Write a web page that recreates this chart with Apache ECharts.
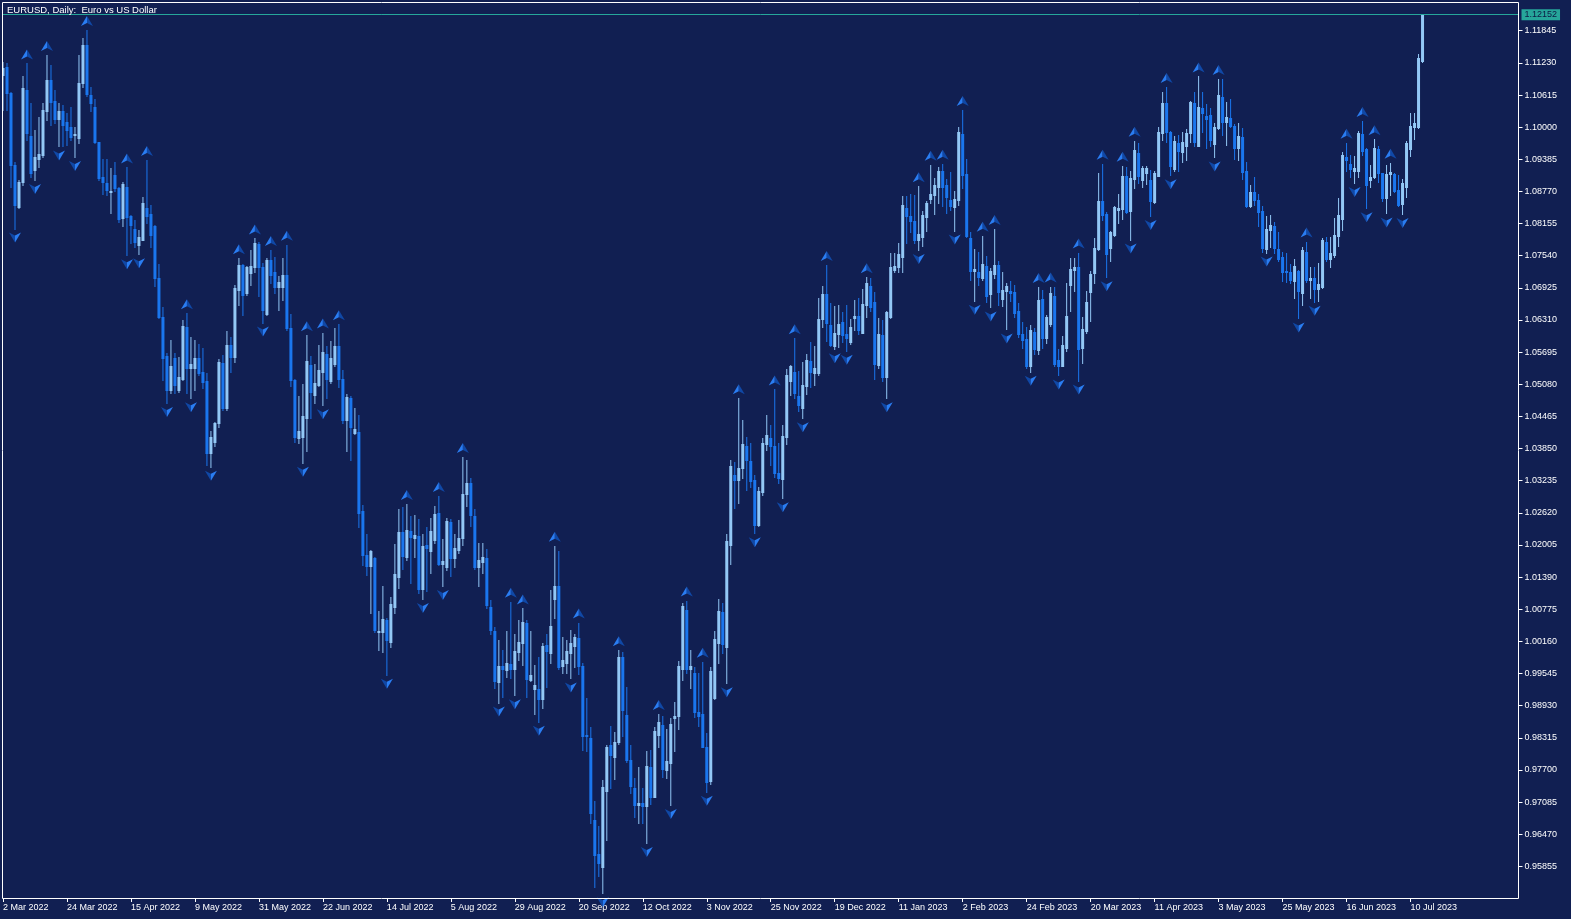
<!DOCTYPE html>
<html><head><meta charset="utf-8">
<script src="https://cdn.jsdelivr.net/npm/echarts@6/dist/echarts.min.js"></script>
<style>html,body{margin:0;padding:0;background:#111f52;}#chart{width:1571px;height:919px;}</style>
</head><body><div id="chart"></div>
<script>
const chartTitle = 'EURUSD, Daily:  Euro vs US Dollar';
const tickLabels = ['2 Mar 2022','24 Mar 2022','15 Apr 2022','9 May 2022','31 May 2022','22 Jun 2022','14 Jul 2022','5 Aug 2022','29 Aug 2022','20 Sep 2022','12 Oct 2022','3 Nov 2022','25 Nov 2022','19 Dec 2022','11 Jan 2023','2 Feb 2023','24 Feb 2023','20 Mar 2023','11 Apr 2023','3 May 2023','25 May 2023','16 Jun 2023','10 Jul 2023'];
const yTicks = [1.11845,1.11230,1.10615,1.10000,1.09385,1.08770,1.08155,1.07540,1.06925,1.06310,1.05695,1.05080,1.04465,1.03850,1.03235,1.02620,1.02005,1.01390,1.00775,1.00160,0.99545,0.98930,0.98315,0.97700,0.97085,0.96470,0.95855];
const currentPrice = 1.12152;

const openPrices = [
1.1100,1.1116,1.1066,1.0928,1.0848,1.0896,1.1071,1.0983,1.0918,1.0940,
1.0947,1.1030,1.1090,1.1051,1.1016,1.1030,1.1009,1.1000,1.0985,1.0980,
1.1084,1.1157,1.1062,1.1039,1.0971,1.0905,1.0893,1.0876,1.0908,1.0884,
1.0826,1.0886,1.0830,1.0806,1.0775,1.0785,1.0845,1.0834,1.0810,1.0711,
1.0637,1.0563,1.0497,1.0558,1.0497,1.0519,1.0618,1.0539,1.0539,1.0559,
1.0532,1.0514,1.0376,1.0398,1.0433,1.0549,1.0462,1.0583,1.0561,1.0688,
1.0736,1.0683,1.0720,1.0733,1.0776,1.0732,1.0642,1.0746,1.0722,1.0695,
1.0695,1.0717,1.0615,1.0516,1.0405,1.0408,1.0443,1.0545,1.0487,1.0507,
1.0532,1.0566,1.0515,1.0547,1.0581,1.0519,1.0440,1.0481,1.0414,1.0417,
1.0266,1.0181,1.0160,1.0175,1.0034,1.0034,1.0056,1.0015,1.0082,1.0140,
1.0226,1.0177,1.0228,1.0213,1.0218,1.0116,1.0201,1.0188,1.0210,1.0261,
1.0164,1.0158,1.0245,1.0175,1.0191,1.0213,1.0298,1.0319,1.0256,1.0159,
1.0167,1.0176,1.0082,1.0036,0.9939,0.9969,0.9961,0.9973,0.9963,0.9996,
1.0013,1.0052,0.9942,0.9924,0.9925,0.9905,1.0009,0.9994,1.0098,1.0122,
0.9968,0.9975,0.9994,1.0007,1.0022,0.9969,0.9837,0.9832,0.9674,0.9609,
0.9585,0.9730,0.9818,0.9794,0.9824,0.9987,0.9875,0.9789,0.9735,0.9702,
0.9707,0.9700,0.9775,0.9719,0.9837,0.9856,0.9770,0.9783,0.9869,0.9873,
0.9964,1.0076,0.9963,0.9956,0.9881,0.9877,0.9814,0.9749,0.9907,1.0013,
1.0073,1.0006,1.0201,1.0334,1.0325,1.0347,1.0390,1.0362,1.0325,1.0239,
1.0302,1.0394,1.0406,1.0390,1.0339,1.0326,1.0407,1.0515,1.0532,1.0486,
1.0462,1.0505,1.0553,1.0530,1.0529,1.0632,1.0681,1.0621,1.0581,1.0604,
1.0628,1.0604,1.0589,1.0634,1.0639,1.0607,1.0660,1.0696,1.0666,1.0545,
1.0602,1.0521,1.0637,1.0727,1.0733,1.0751,1.0845,1.0830,1.0821,1.0785,
1.0790,1.0828,1.0862,1.0870,1.0886,1.0917,1.0889,1.0861,1.0847,1.0861,
1.0987,1.0910,1.0787,1.0725,1.0723,1.0711,1.0734,1.0681,1.0719,1.0736,
1.0671,1.0687,1.0687,1.0685,1.0649,1.0604,1.0594,1.0543,1.0608,1.0573,
1.0671,1.0596,1.0623,1.0676,1.0555,1.0543,1.0577,1.0698,1.0727,1.0733,
1.0577,1.0609,1.0685,1.0720,1.0766,1.0859,1.0834,1.0768,1.0794,1.0841,
1.0843,1.0907,1.0840,1.0900,1.0950,1.0898,1.0913,1.0899,1.0857,1.0907,
1.0989,1.1047,1.0991,1.0919,1.0970,1.0953,1.0964,1.0988,1.1047,1.0964,
1.1036,1.1021,1.1023,1.0968,1.0998,1.1057,1.1009,1.1017,1.1002,1.0960,
1.0981,1.0917,1.0849,1.0875,1.0861,1.0840,1.0766,1.0803,1.0810,1.0766,
1.0751,1.0725,1.0722,1.0706,1.0725,1.0683,1.0762,1.0708,1.0711,1.0690,
1.0694,1.0781,1.0747,1.0755,1.0792,1.0824,1.0943,1.0929,1.0917,1.0917,
1.0987,1.0958,1.0899,1.0904,1.0958,1.0912,1.0864,1.0910,1.0910,1.0880,
1.0853,1.0886,1.0958,1.1001,1.1001,1.1127];

const highPrices = [
1.1125,1.1122,1.1068,1.0934,1.0899,1.1097,1.1122,1.1046,1.0995,1.1020,
1.1046,1.1138,1.1119,1.1071,1.1046,1.1042,1.1027,1.1038,1.1001,1.1138,
1.1170,1.1186,1.1076,1.1053,1.0972,1.0939,1.0939,1.0921,1.0933,1.0886,
1.0896,1.0923,1.0832,1.0822,1.0803,1.0867,1.0937,1.0851,1.0813,1.0738,
1.0656,1.0567,1.0593,1.0568,1.0561,1.0631,1.0644,1.0598,1.0593,1.0586,
1.0577,1.0529,1.0419,1.0436,1.0556,1.0564,1.0609,1.0599,1.0698,1.0749,
1.0739,1.0734,1.0765,1.0787,1.0781,1.0741,1.0749,1.0765,1.0752,1.0715,
1.0749,1.0775,1.0642,1.0519,1.0486,1.0509,1.0602,1.0562,1.0547,1.0583,
1.0607,1.0581,1.0591,1.0615,1.0623,1.0535,1.0489,1.0486,1.0462,1.0449,
1.0277,1.0221,1.0191,1.0177,1.0075,1.0122,1.0060,1.0100,1.0202,1.0269,
1.0274,1.0279,1.0256,1.0258,1.0250,1.0221,1.0234,1.0253,1.0275,1.0294,
1.0211,1.0253,1.0250,1.0221,1.0248,1.0369,1.0364,1.0328,1.0269,1.0205,
1.0205,1.0192,1.0095,1.0044,1.0019,0.9999,1.0035,1.0092,1.0030,1.0056,
1.0079,1.0056,1.0035,0.9971,0.9986,1.0012,1.0030,1.0114,1.0199,1.0188,
1.0025,1.0019,1.0038,1.0030,1.0052,0.9975,0.9907,0.9852,0.9711,0.9663,
0.9751,0.9818,0.9854,0.9843,0.9999,0.9996,0.9928,0.9818,0.9754,0.9776,
0.9735,0.9807,0.9809,0.9853,0.9877,0.9873,0.9848,0.9869,0.9900,0.9979,
1.0090,1.0094,0.9999,0.9966,0.9956,0.9977,0.9841,0.9966,1.0035,1.0097,
1.0089,1.0221,1.0364,1.0360,1.0481,1.0440,1.0408,1.0396,1.0334,1.0311,
1.0405,1.0449,1.0430,1.0498,1.0396,1.0430,1.0537,1.0545,1.0596,1.0534,
1.0551,1.0566,1.0589,1.0581,1.0673,1.0696,1.0736,1.0663,1.0658,1.0660,
1.0647,1.0660,1.0632,1.0669,1.0674,1.0690,1.0713,1.0711,1.0685,1.0634,
1.0631,1.0649,1.0760,1.0760,1.0778,1.0868,1.0868,1.0873,1.0870,1.0887,
1.0840,1.0859,1.0928,1.0902,1.0923,1.0930,1.0900,1.0915,1.0877,1.1000,
1.1033,1.0940,1.0800,1.0766,1.0762,1.0792,1.0753,1.0730,1.0805,1.0744,
1.0723,1.0702,1.0706,1.0698,1.0664,1.0628,1.0617,1.0621,1.0616,1.0694,
1.0688,1.0641,1.0695,1.0695,1.0575,1.0600,1.0702,1.0749,1.0749,1.0760,
1.0637,1.0687,1.0725,1.0787,1.0912,1.0930,1.0838,1.0802,1.0849,1.0872,
1.0926,1.0924,1.0917,1.0974,1.0969,1.0926,1.0926,1.0918,1.0917,1.1000,
1.1068,1.1077,1.0993,1.0983,1.0985,1.0991,1.0996,1.1051,1.1068,1.1097,
1.1068,1.1044,1.1036,1.1007,1.1092,1.1092,1.1049,1.1053,1.1006,1.1007,
1.0998,1.0934,1.0889,1.0904,1.0873,1.0849,1.0830,1.0832,1.0819,1.0800,
1.0762,1.0759,1.0739,1.0747,1.0727,1.0770,1.0781,1.0733,1.0732,1.0741,
1.0787,1.0789,1.0790,1.0826,1.0864,1.0953,1.0970,1.0947,1.0945,1.0993,
1.1012,1.0960,1.0928,1.0977,1.0964,1.0913,1.0928,1.0932,1.0913,1.0908,
1.0900,1.0974,1.1028,1.1028,1.1140,1.1216];

const lowPrices = [
1.1033,1.1033,1.0886,1.0806,1.0845,1.0889,1.0975,1.0905,1.0899,1.0924,
1.0943,1.1014,1.1004,1.1007,1.0963,1.0963,1.0966,1.0975,1.0943,1.0969,
1.1076,1.1060,1.1030,1.0970,1.0899,1.0873,1.0870,1.0836,1.0877,1.0819,
1.0810,1.0755,1.0778,1.0770,1.0757,1.0784,1.0816,1.0770,1.0696,1.0634,
1.0516,1.0472,1.0491,1.0491,1.0494,1.0516,1.0491,1.0481,1.0497,1.0526,
1.0500,1.0354,1.0350,1.0389,1.0427,1.0459,1.0459,1.0532,1.0551,1.0660,
1.0641,1.0678,1.0698,1.0723,1.0677,1.0626,1.0641,1.0701,1.0683,1.0650,
1.0669,1.0612,1.0505,1.0398,1.0396,1.0358,1.0381,1.0443,1.0473,1.0505,
1.0468,1.0482,1.0510,1.0543,1.0502,1.0433,1.0381,1.0363,1.0413,1.0234,
1.0162,1.0143,1.0071,1.0033,0.9999,0.9996,0.9952,1.0006,1.0071,1.0119,
1.0154,1.0172,1.0128,1.0178,1.0108,1.0097,1.0113,1.0146,1.0204,1.0162,
1.0122,1.0153,1.0141,1.0158,1.0186,1.0201,1.0275,1.0237,1.0154,1.0122,
1.0146,1.0079,1.0031,0.9926,0.9899,0.9910,0.9948,0.9945,0.9913,0.9980,
0.9971,0.9910,0.9941,0.9877,0.9862,0.9888,0.9929,0.9974,1.0060,0.9964,
0.9955,0.9955,0.9945,0.9966,0.9954,0.9809,0.9807,0.9668,0.9545,0.9567,
0.9534,0.9635,0.9735,0.9752,0.9820,0.9834,0.9786,0.9725,0.9679,0.9669,
0.9668,0.9630,0.9705,0.9718,0.9813,0.9757,0.9754,0.9703,0.9807,0.9848,
0.9943,0.9956,0.9926,0.9872,0.9854,0.9813,0.9728,0.9744,0.9905,0.9975,
0.9993,0.9936,1.0164,1.0271,1.0280,1.0328,1.0306,1.0312,1.0223,1.0237,
1.0296,1.0382,1.0354,1.0330,1.0319,1.0290,1.0394,1.0487,1.0481,1.0457,
1.0443,1.0489,1.0502,1.0507,1.0526,1.0618,1.0591,1.0581,1.0575,1.0580,
1.0589,1.0572,1.0585,1.0611,1.0604,1.0606,1.0637,1.0649,1.0519,1.0540,
1.0515,1.0481,1.0634,1.0723,1.0723,1.0723,1.0779,1.0800,1.0779,1.0765,
1.0773,1.0802,1.0854,1.0834,1.0855,1.0849,1.0836,1.0841,1.0802,1.0851,
1.0883,1.0790,1.0708,1.0668,1.0698,1.0708,1.0666,1.0655,1.0711,1.0660,
1.0658,1.0613,1.0668,1.0637,1.0598,1.0577,1.0540,1.0532,1.0566,1.0566,
1.0577,1.0587,1.0620,1.0542,1.0525,1.0542,1.0572,1.0649,1.0687,1.0515,
1.0549,1.0607,1.0630,1.0702,1.0764,1.0822,1.0713,1.0744,1.0792,1.0817,
1.0824,1.0835,1.0785,1.0883,1.0893,1.0886,1.0891,1.0830,1.0855,1.0907,
1.0975,1.0972,1.0908,1.0917,1.0917,1.0934,1.0938,1.0972,1.0963,1.0963,
1.0991,1.0961,1.0963,1.0942,1.0996,1.0985,1.0966,1.1000,1.0940,1.0938,
1.0900,1.0848,1.0847,1.0851,1.0810,1.0762,1.0760,1.0770,1.0760,1.0744,
1.0706,1.0704,1.0701,1.0673,1.0634,1.0660,1.0704,1.0673,1.0666,1.0668,
1.0692,1.0743,1.0733,1.0752,1.0773,1.0803,1.0917,1.0905,1.0893,1.0905,
1.0947,1.0845,1.0886,1.0902,1.0896,1.0859,1.0835,1.0870,1.0875,1.0849,
1.0834,1.0867,1.0945,1.0977,1.0998,1.1125];

const closePrices = [
1.1113,1.1065,1.0928,1.0851,1.0896,1.1074,1.0988,1.0912,1.0943,1.0949,
1.1032,1.1090,1.1049,1.1016,1.1030,1.1004,1.0995,1.0981,1.0987,1.1084,
1.1157,1.1063,1.1047,1.0971,1.0902,1.0896,1.0880,1.0878,1.0883,1.0824,
1.0891,1.0829,1.0813,1.0781,1.0789,1.0855,1.0830,1.0794,1.0711,1.0636,
1.0558,1.0497,1.0543,1.0507,1.0521,1.0620,1.0539,1.0547,1.0559,1.0529,
1.0513,1.0376,1.0408,1.0433,1.0551,1.0462,1.0583,1.0561,1.0692,1.0736,
1.0679,1.0732,1.0734,1.0779,1.0733,1.0650,1.0746,1.0717,1.0695,1.0704,
1.0717,1.0615,1.0516,1.0407,1.0419,1.0447,1.0553,1.0494,1.0510,1.0535,
1.0570,1.0519,1.0558,1.0581,1.0519,1.0440,1.0484,1.0427,1.0422,1.0262,
1.0181,1.0160,1.0188,1.0038,1.0036,1.0058,1.0019,1.0088,1.0145,1.0226,
1.0179,1.0229,1.0215,1.0220,1.0116,1.0199,1.0194,1.0227,1.0260,1.0165,
1.0170,1.0246,1.0175,1.0194,1.0213,1.0298,1.0319,1.0258,1.0159,1.0172,
1.0178,1.0086,1.0038,0.9941,0.9969,0.9964,0.9975,0.9963,0.9998,1.0015,
1.0054,0.9944,0.9952,0.9933,0.9905,1.0007,0.9998,1.0045,1.0122,0.9966,
0.9980,0.9998,1.0013,1.0025,0.9969,0.9835,0.9834,0.9687,0.9607,0.9591,
0.9738,0.9814,0.9799,0.9824,0.9987,0.9885,0.9789,0.9739,0.9703,0.9706,
0.9701,0.9778,0.9718,0.9845,0.9862,0.9771,0.9788,0.9858,0.9873,0.9969,
1.0084,0.9964,0.9968,0.9881,0.9873,0.9814,0.9747,0.9960,1.0020,1.0075,
1.0011,1.0209,1.0352,1.0325,1.0348,1.0394,1.0363,1.0323,1.0239,1.0304,
1.0396,1.0411,1.0390,1.0339,1.0328,1.0409,1.0526,1.0542,1.0492,1.0468,
1.0507,1.0554,1.0532,1.0540,1.0632,1.0681,1.0626,1.0583,1.0607,1.0623,
1.0602,1.0596,1.0617,1.0639,1.0611,1.0662,1.0702,1.0655,1.0547,1.0604,
1.0521,1.0647,1.0733,1.0734,1.0757,1.0851,1.0830,1.0821,1.0785,1.0796,
1.0832,1.0855,1.0872,1.0889,1.0917,1.0886,1.0866,1.0849,1.0862,1.0991,
1.0908,1.0792,1.0725,1.0728,1.0714,1.0738,1.0676,1.0725,1.0736,1.0685,
1.0688,1.0696,1.0682,1.0645,1.0604,1.0593,1.0543,1.0611,1.0576,1.0669,
1.0596,1.0636,1.0683,1.0547,1.0543,1.0583,1.0639,1.0728,1.0732,1.0575,
1.0613,1.0666,1.0719,1.0768,1.0859,1.0832,1.0757,1.0800,1.0848,1.0845,
1.0907,1.0838,1.0902,1.0956,1.0907,1.0921,1.0921,1.0859,1.0913,1.0991,
1.1047,1.0991,1.0926,1.0974,1.0955,1.0972,1.0989,1.1049,1.0972,1.1038,
1.1027,1.1015,1.0975,1.1000,1.1062,1.1010,1.1019,1.1002,1.0960,1.0983,
1.0915,1.0849,1.0875,1.0861,1.0838,1.0768,1.0806,1.0813,1.0768,1.0747,
1.0723,1.0722,1.0708,1.0734,1.0687,1.0764,1.0708,1.0711,1.0690,1.0700,
1.0784,1.0747,1.0760,1.0794,1.0832,1.0947,1.0938,1.0919,1.0921,1.0988,
1.0955,1.0889,1.0905,1.0960,1.0913,1.0864,1.0910,1.0915,1.0878,1.0851,
1.0894,1.0970,1.1002,1.1008,1.1132,1.12152];

// trading-day categories (with empty room to the right of the last bar)
const MONTHS = ['Jan','Feb','Mar','Apr','May','Jun','Jul','Aug','Sep','Oct','Nov','Dec'];
const categories = [];
(function () {
  const d = new Date(Date.UTC(2022, 2, 2));
  const skip = { '2022-12-26': 1 };
  while (categories.length < 380) {
    const wd = d.getUTCDay();
    const key = d.toISOString().slice(0, 10);
    if (wd !== 0 && wd !== 6 && !skip[key]) {
      categories.push(d.getUTCDate() + ' ' + MONTHS[d.getUTCMonth()] + ' ' + d.getUTCFullYear());
    }
    d.setUTCDate(d.getUTCDate() + 1);
  }
})();

const n = openPrices.length;
const candleData = openPrices.map((o, i) => [i, o, closePrices[i], lowPrices[i], highPrices[i]]);

// Bill Williams fractals computed from the bars
const upFractals = [], downFractals = [];
for (let i = 2; i < n - 2; i++) {
  const h = highPrices, l = lowPrices;
  if (h[i] > h[i - 1] && h[i] > h[i - 2] && h[i] >= h[i + 1] && h[i] >= h[i + 2]) upFractals.push([i, h[i]]);
  if (l[i] < l[i - 1] && l[i] < l[i - 2] && l[i] <= l[i + 1] && l[i] <= l[i + 2]) downFractals.push([i, l[i]]);
}

const BULL = '#93c8f6', BEAR = '#1a76ee';
const ARROW_LIGHT = '#2a7df2', ARROW_DARK = '#1048a6';
const FONT = "'Liberation Sans', Arial, sans-serif";

function renderCandle(params, api) {
  const i = api.value(0), o = api.value(1), c = api.value(2), l = api.value(3), h = api.value(4);
  const pO = api.coord([i, o]), pC = api.coord([i, c]), pL = api.coord([i, l]), pH = api.coord([i, h]);
  const x = pO[0];
  const color = c >= o ? BULL : BEAR;
  const yH = Math.round(pH[1]), yL = Math.round(pL[1]);
  let top = Math.round(Math.min(pO[1], pC[1])), bot = Math.round(Math.max(pO[1], pC[1]));
  if (bot - top < 1) bot = top + 1;
  return {
    type: 'group',
    children: [
      { type: 'rect', shape: { x: x - 0.5, y: yH, width: 1, height: Math.max(1, yL - yH + 1) }, style: { fill: color } },
      { type: 'rect', shape: { x: x - 1.5, y: top, width: 3, height: bot - top + 1 }, style: { fill: color } }
    ]
  };
}

function arrowSeries(data, path, offset, color) {
  return {
    type: 'scatter', data: data, symbol: 'path://' + path, symbolSize: [6, 10],
    symbolKeepAspect: false, symbolOffset: offset, silent: true, z: 5,
    itemStyle: { color: color, borderWidth: 0, opacity: 1 }, animation: false
  };
}

const chart = echarts.init(document.getElementById('chart'), null, { renderer: 'canvas' });
chart.setOption({
  backgroundColor: '#111f52',
  animation: false,
  title: {
    text: chartTitle, left: 7, top: 4, padding: 0,
    textStyle: { color: '#ffffff', fontSize: 9.5, fontWeight: 'normal', fontFamily: FONT, lineHeight: 12 }
  },
  grid: { left: 2.5, top: 2, width: 1516, height: 896, containLabel: false },
  xAxis: {
    type: 'category', data: categories, boundaryGap: false,
    axisLine: { show: false },
    axisTick: { show: true, interval: (idx) => idx % 16 === 0 && idx / 16 < tickLabels.length, length: 4, lineStyle: { color: '#ffffff', width: 1 } },
    axisLabel: {
      show: true, interval: (idx) => idx % 16 === 0 && idx / 16 < tickLabels.length,
      formatter: (v, idx) => tickLabels[idx / 16] || '',
      align: 'left', margin: 5, color: '#ffffff', fontSize: 9, fontFamily: FONT
    },
    splitLine: { show: false }
  },
  yAxis: {
    type: 'value', position: 'right', min: 0.95249, max: 1.12395, scale: true,
    axisLine: { show: false },
    axisTick: { show: true, customValues: yTicks, length: 4, inside: false, lineStyle: { color: '#ffffff', width: 1 } },
    axisLabel: { show: true, customValues: yTicks, formatter: (v) => Number(v).toFixed(5), margin: 6, color: '#ffffff', fontSize: 9, fontFamily: FONT },
    splitLine: { show: false }
  },
  graphic: [{
    type: 'rect', z: 100, silent: true,
    shape: { x: 2.5, y: 2.5, width: 1516, height: 896 },
    style: { fill: 'none', stroke: '#ffffff', lineWidth: 1 }
  }],
  series: [
    {
      type: 'custom', data: candleData, renderItem: renderCandle, clip: true, z: 3, silent: true,
      encode: { x: 0, y: [1, 2, 3, 4] },
      markLine: {
        silent: true, symbol: ['none', 'none'], animation: false, precision: 5,
        lineStyle: { color: '#26a69a', width: 1, type: 'solid' },
        label: {
          show: true, position: 'end', distance: 3, formatter: () => currentPrice.toFixed(5),
          backgroundColor: '#26a69a', color: '#0c1a44', fontSize: 9, fontFamily: FONT, padding: [1, 3, 1, 3]
        },
        data: [{ yAxis: currentPrice }]
      }
    },
    arrowSeries(upFractals, 'M6,0L6,7L0,10Z', [-3, -9], ARROW_LIGHT),
    arrowSeries(upFractals, 'M6,0L12,10L6,7Z', [3, -9], ARROW_DARK),
    arrowSeries(downFractals, 'M0,0L6,3L6,10Z', [-3, 9], ARROW_DARK),
    arrowSeries(downFractals, 'M6,3L12,0L6,10Z', [3, 9], ARROW_LIGHT)
  ]
});
</script>
</body></html>
